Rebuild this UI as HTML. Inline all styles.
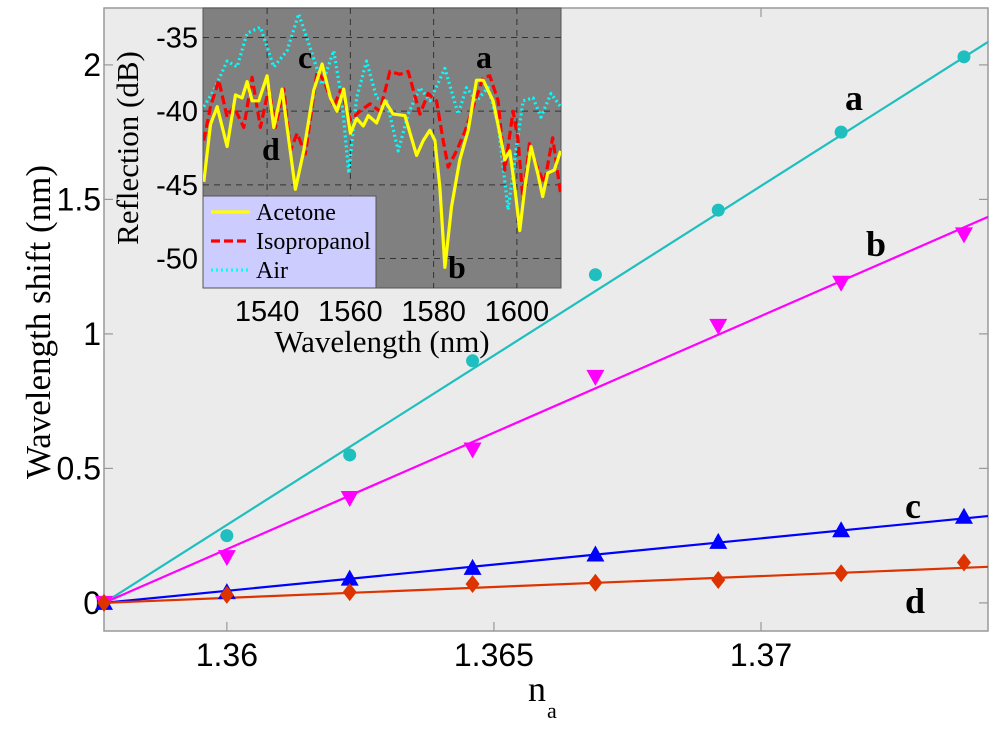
<!DOCTYPE html>
<html><head><meta charset="utf-8"><style>
html,body{margin:0;padding:0;background:#fff;}
svg{display:block;}
.tk{font-family:"Liberation Sans",Arial,sans-serif;fill:#000;}
.sf{font-family:"Liberation Serif","Times New Roman",serif;fill:#000;}
</style></head><body>
<svg id="chart" width="1000" height="732" viewBox="0 0 1000 732" xmlns="http://www.w3.org/2000/svg">
<g id="main"></g>
<g id="inset"></g>
</svg>
<script>
// ---------- main chart data ----------
const nIndex = [1.3577, 1.3600, 1.3623, 1.3646, 1.3669, 1.3692, 1.3715, 1.3738];
const shiftA = [0, 0.25, 0.55, 0.90, 1.22, 1.46, 1.75, 2.03];
const shiftB = [0, 0.17, 0.39, 0.57, 0.84, 1.03, 1.19, 1.37];
const shiftC = [0, 0.04, 0.09, 0.13, 0.18, 0.227, 0.27, 0.32];
const shiftD = [0, 0.03, 0.04, 0.07, 0.075, 0.085, 0.11, 0.15];
const fitSlopes = [126, 86.7, 19.5, 8.1];
const xTicks = [1.36, 1.365, 1.37];
const xTickLabels = ["1.36", "1.365", "1.37"];
const yTicks = [0, 0.5, 1, 1.5, 2];
const yTickLabels = ["0", "0.5", "1", "1.5", "2"];
const seriesLabels = ["a", "b", "c", "d"];

// ---------- inset data ----------
const acetoneWl = [1524.8,1526.4,1528.0,1530.4,1532.4,1534.0,1535.2,1536.4,1538.0,1540.0,1541.6,1543.6,1544.8,1546.8,1548.8,1551.2,1553.2,1555.2,1556.8,1558.4,1560.0,1561.5,1563.1,1564.3,1566.3,1568.3,1570.3,1573.1,1575.9,1577.5,1579.1,1580.3,1581.5,1582.7,1584.3,1586.3,1588.3,1590.3,1591.9,1594.3,1595.9,1597.1,1598.3,1599.5,1600.7,1601.9,1603.4,1605.0,1606.2,1607.4,1609.0,1610.5];
const acetoneDb = [-44.8,-40.9,-39.7,-42.4,-38.9,-39.1,-38.0,-39.3,-39.3,-37.6,-41.1,-38.5,-41.1,-45.3,-42.7,-38.6,-36.8,-39.1,-40.0,-38.5,-41.5,-40.5,-41.0,-40.3,-40.8,-39.3,-40.2,-40.3,-43.0,-42.0,-41.3,-42.0,-45.2,-50.6,-46.5,-43.3,-41.3,-37.9,-37.9,-39.3,-41.5,-43.3,-42.7,-45.2,-48.1,-45.2,-42.4,-44.2,-45.8,-44.2,-44.0,-42.7];
const isoWl = [1524.8,1526.4,1528.4,1530.4,1532.0,1534.4,1536.4,1538.4,1540.4,1542.0,1544.0,1545.6,1547.2,1549.2,1552.0,1553.6,1556.0,1557.6,1560.0,1562.3,1564.7,1567.1,1569.5,1571.9,1573.9,1576.7,1578.7,1580.7,1582.3,1583.5,1585.5,1587.5,1589.5,1591.9,1593.5,1595.5,1597.1,1599.1,1600.3,1601.5,1603.0,1604.6,1606.6,1608.6,1610.5];
const isoDb = [-42.0,-39.7,-37.9,-40.4,-39.7,-41.1,-37.7,-41.1,-38.4,-41.1,-38.5,-42.7,-41.5,-42.9,-37.3,-37.9,-39.7,-38.6,-40.6,-40.0,-39.5,-40.0,-37.3,-37.5,-37.3,-40.2,-38.8,-39.3,-42.0,-43.8,-42.7,-41.4,-39.7,-37.7,-37.6,-39.3,-44.0,-40.0,-42.0,-46.1,-42.2,-43.6,-44.9,-41.8,-45.6];
const airWl = [1524.8,1527.2,1530.4,1532.8,1535.2,1538.4,1541.6,1544.8,1547.6,1550.8,1553.2,1556.0,1558.0,1559.6,1561.5,1563.9,1566.3,1568.7,1571.5,1573.9,1576.7,1579.1,1582.7,1585.9,1587.9,1590.3,1593.1,1595.5,1597.9,1599.9,1601.5,1603.9,1605.8,1608.2,1610.5];
const airDb = [-39.7,-38.6,-36.6,-37.0,-34.7,-34.3,-37.0,-35.9,-33.4,-36.1,-38.2,-35.9,-39.3,-44.2,-39.1,-36.6,-39.1,-39.3,-42.7,-40.2,-38.4,-39.3,-37.1,-40.2,-38.4,-39.3,-38.4,-40.9,-46.7,-42.4,-39.3,-39.1,-40.4,-38.8,-39.7];
const insetXTicks = [1540, 1560, 1580, 1600];
const insetYTicks = [-35, -40, -45, -50];
const legendNames = ["Acetone", "Isopropanol", "Air"];

const NS = "http://www.w3.org/2000/svg";
function mk(parent, tag, attrs, text) {
  const e = document.createElementNS(NS, tag);
  for (const k in attrs) e.setAttribute(k, attrs[k]);
  if (text !== undefined) e.textContent = text;
  parent.appendChild(e);
  return e;
}

// ---------- main axes ----------
const M = {l:104, r:988, t:8, b:631};
const xMin = 1.3577, xMax = 1.37425, yMin = -0.1045, yMax = 2.2115;
const X = v => M.l + (v - xMin) / (xMax - xMin) * (M.r - M.l);
const Y = v => M.b - (v - yMin) / (yMax - yMin) * (M.b - M.t);
const main = document.getElementById("main");

let bg = mk(main, "rect", {x:M.l, y:M.t, width:M.r-M.l, height:M.b-M.t, fill:"#ebebeb", stroke:"#999", "stroke-width":1.5});



xTicks.forEach((t, i) => {
  const x = X(t);
  mk(main, "line", {x1:x, y1:M.b, x2:x, y2:M.b-9, stroke:"#999", "stroke-width":1.2});
  mk(main, "line", {x1:x, y1:M.t, x2:x, y2:M.t+9, stroke:"#999", "stroke-width":1.2});
  const tl = mk(main, "text", {x:x, y:M.b+35, "font-size":32, "text-anchor":"middle", class:"tk"}, xTickLabels[i]);
  
  
});
yTicks.forEach((t, i) => {
  const y = Y(t);
  mk(main, "line", {x1:M.l, y1:y, x2:M.l+9, y2:y, stroke:"#999", "stroke-width":1.2});
  mk(main, "line", {x1:M.r, y1:y, x2:M.r-9, y2:y, stroke:"#999", "stroke-width":1.2});
  const tl = mk(main, "text", {x:M.l-3, y:y+11, "font-size":32, "text-anchor":"end", class:"tk"}, yTickLabels[i]);
  
  
});

const yt = mk(main, "text", {x:0, y:0, "font-size":35, "text-anchor":"middle", class:"sf", transform:"translate(50,322) rotate(-90)"}, "Wavelength shift (nm)");


const xt = mk(main, "text", {x:528, y:701, "font-size":36, class:"sf"}, "n");


mk(main, "text", {x:547, y:718, "font-size":22, class:"sf"}, "a");

const series = [shiftA, shiftB, shiftC, shiftD];
const colors = ["#1fbfbf", "#ff00ff", "#0000ff", "#dd3300"];
const labelPos = [[845,110],[866,256],[905,518],[905,613]];

series.forEach((vals, s) => {
  const fl = mk(main, "line", {x1:X(nIndex[0]), y1:Y(0), x2:X(xMax), y2:Y(fitSlopes[s]*(xMax-nIndex[0])), stroke:colors[s], "stroke-width":2.2});
  
  
});
series.forEach((vals, s) => {
  vals.forEach((v, i) => {
    const x = X(nIndex[i]), y = Y(v);
    let m;
    if (s === 0) m = mk(main, "circle", {cx:x, cy:y, r:6.5, fill:colors[s]});
    else if (s === 1) m = mk(main, "polygon", {points:`${x-9},${y-7} ${x+9},${y-7} ${x},${y+9}`, fill:colors[s]});
    else if (s === 2) m = mk(main, "polygon", {points:`${x-9},${y+7} ${x+9},${y+7} ${x},${y-9}`, fill:colors[s]});
    else m = mk(main, "polygon", {points:`${x},${y-9} ${x+7},${y} ${x},${y+9} ${x-7},${y}`, fill:colors[s]});
    
    
  });
  const lb = mk(main, "text", {x:labelPos[s][0], y:labelPos[s][1], "font-size":36, "font-weight":"bold", class:"sf"}, seriesLabels[s]);
  
  
});

// ---------- inset ----------
const I = {l:203, r:561, t:8, b:288};
const iwMin = 1524.6, iwMax = 1610.6, idMin = -52.0, idMax = -33.0;
const IX = v => I.l + (v - iwMin) / (iwMax - iwMin) * (I.r - I.l);
const IY = v => I.b - (v - idMin) / (idMax - idMin) * (I.b - I.t);
const inset = document.getElementById("inset");
const ibg = mk(inset, "rect", {x:I.l, y:I.t, width:I.r-I.l, height:I.b-I.t, fill:"#808080", stroke:"#555", "stroke-width":1});


insetXTicks.forEach(t => {
  mk(inset, "line", {x1:IX(t), y1:I.t, x2:IX(t), y2:I.b, stroke:"#333", "stroke-width":1, "stroke-dasharray":"6,5"});
  const tl = mk(inset, "text", {x:IX(t), y:I.b+33, "font-size":29, "text-anchor":"middle", class:"tk"}, String(t));
  
  
});
insetYTicks.forEach(t => {
  mk(inset, "line", {x1:I.l, y1:IY(t), x2:I.r, y2:IY(t), stroke:"#333", "stroke-width":1, "stroke-dasharray":"6,5"});
  const tl = mk(inset, "text", {x:I.l-5, y:IY(t)+10, "font-size":29, "text-anchor":"end", class:"tk"}, String(t));
  
  
});
const iyt = mk(inset, "text", {x:0, y:0, "font-size":31, "text-anchor":"middle", class:"sf", transform:"translate(138,148) rotate(-90)"}, "Reflection (dB)");


const ixt = mk(inset, "text", {x:382, y:352, "font-size":31, "text-anchor":"middle", class:"sf"}, "Wavelength (nm)");



const clip = mk(inset, "clipPath", {id:"iclip"});
mk(clip, "rect", {x:I.l, y:I.t, width:I.r-I.l, height:I.b-I.t});
const curves = [[airWl, airDb, "#00ffff", "2,3", "air-curve"], [isoWl, isoDb, "#ff0000", "9,4", "isopropanol-curve"], [acetoneWl, acetoneDb, "#ffff00", "", "acetone-curve"]];
[0, 1, 2].forEach(k => {
  const c = curves[k];
  const d = c[0].map((w, i) => (i ? "L" : "M") + IX(w).toFixed(1) + "," + IY(c[1][i]).toFixed(1)).join(" ");
  const p = mk(inset, "path", {d:d, fill:"none", stroke:c[2], "stroke-width":3.2, "stroke-dasharray":c[3], "stroke-linejoin":"round", "clip-path":"url(#iclip)"});
  
  
});

const leg = mk(inset, "g", {});


mk(leg, "rect", {x:203, y:196, width:173, height:92, fill:"#ccccff", stroke:"#555", "stroke-width":1});
const legColors = ["#ffff00", "#ff0000", "#00ffff"];
const legDash = ["", "9,4", "2,3"];
legendNames.forEach((n, i) => {
  const y = 212 + i * 29;
  mk(leg, "line", {x1:211, y1:y, x2:250, y2:y, stroke:legColors[i], "stroke-width":3.2, "stroke-dasharray":legDash[i]});
  const t = mk(leg, "text", {x:256, y:y+8, "font-size":24, class:"sf"}, n);
  
  
});

const insetLabels = [["c",298,68],["a",476,68],["d",262,160],["b",448,278]];
insetLabels.forEach(l => {
  const t = mk(inset, "text", {x:l[1], y:l[2], "font-size":32, "font-weight":"bold", class:"sf"}, l[0]);
  
  
});
</script>
</body></html>
